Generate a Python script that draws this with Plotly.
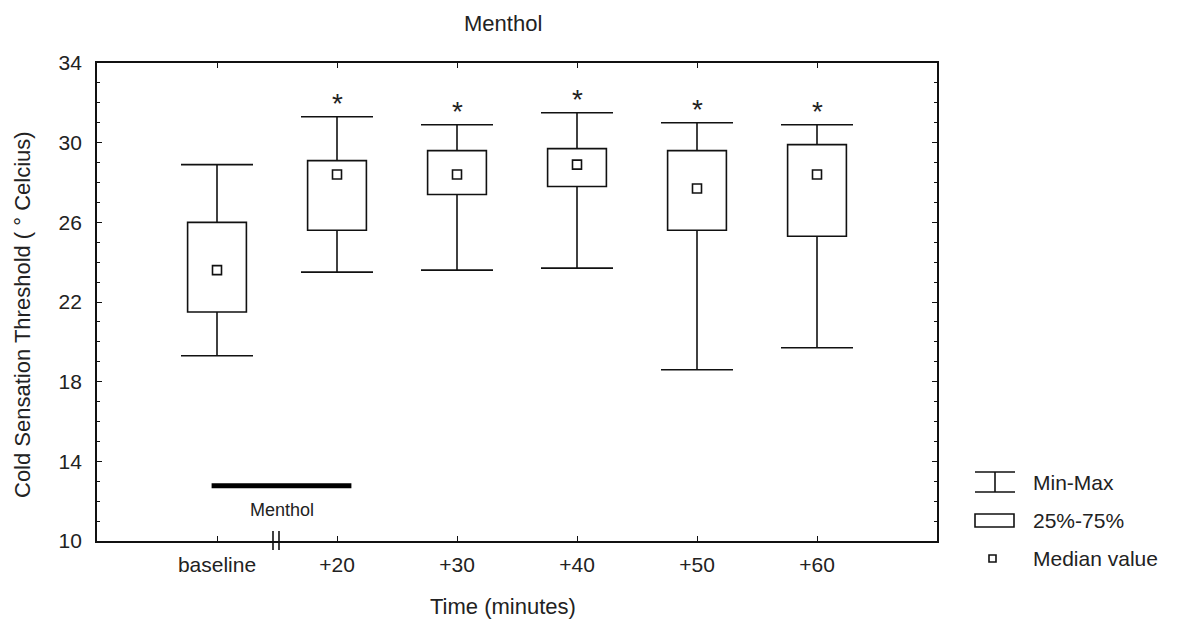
import plotly.graph_objects as go

# ---- data ----
categories = ["baseline", "+20", "+30", "+40", "+50", "+60"]
min_vals = [19.3, 23.5, 23.6, 23.7, 18.6, 19.7]
q1_vals = [21.5, 25.6, 27.4, 27.8, 25.6, 25.3]
median_vals = [23.6, 28.4, 28.4, 28.9, 27.7, 28.4]
q3_vals = [26.0, 29.1, 29.6, 29.7, 29.6, 29.9]
max_vals = [28.9, 31.3, 30.9, 31.5, 31.0, 30.9]
significant = [False, True, True, True, True, True]
menthol_period = [0.955, 2.12]   # x extent of menthol application bar
menthol_level = 12.78
y_ticks = [10, 14, 18, 22, 26, 30, 34]

FONT = "Liberation Sans, Arial, sans-serif"
TXT = "#222222"
LC = "#111111"

xpos = list(range(1, len(categories) + 1))
BOX_W = 0.49
CAP_HALF = 0.3

fig = go.Figure()

# IQR boxes
fig.add_trace(go.Bar(
    x=xpos, y=[b - a for a, b in zip(q1_vals, q3_vals)], base=q1_vals,
    width=BOX_W, marker=dict(color="white", line=dict(color=LC, width=1.6)),
    showlegend=False, hoverinfo="skip"))

# whiskers + caps
wx, wy = [], []
for x, lo, a, b, hi in zip(xpos, min_vals, q1_vals, q3_vals, max_vals):
    wx += [x, x, None, x, x, None, x - CAP_HALF, x + CAP_HALF, None, x - CAP_HALF, x + CAP_HALF, None]
    wy += [b, hi, None, a, lo, None, hi, hi, None, lo, lo, None]
fig.add_trace(go.Scatter(x=wx, y=wy, mode="lines", line=dict(color=LC, width=1.6),
                         showlegend=False, hoverinfo="skip"))

# medians
fig.add_trace(go.Scatter(x=xpos, y=median_vals, mode="markers",
                         marker=dict(symbol="square-open", size=9, color=LC, line=dict(width=1.6)),
                         showlegend=False, hoverinfo="skip"))

# menthol application bar
fig.add_trace(go.Scatter(x=menthol_period, y=[menthol_level, menthol_level], mode="lines",
                         line=dict(color="black", width=5), showlegend=False, hoverinfo="skip"))

annotations = []
for x, hi, s in zip(xpos, max_vals, significant):
    if s:
        annotations.append(dict(x=x, y=hi, xref="x", yref="y", text="*", showarrow=False,
                                yanchor="bottom", yshift=-4,
                                font=dict(family=FONT, size=28, color=TXT)))

annotations.append(dict(x=sum(menthol_period) / 2 - 0.0, y=menthol_level, xref="x", yref="y",
                        text="Menthol", showarrow=False, yanchor="top", yshift=-12,
                        font=dict(family=FONT, size=18, color=TXT)))

# screen-pixel geometry of the plot area (page has an 8px body margin)
OFF = 8
L, R, T, B = 97, 937, 63, 541
def px(xp):
    return (xp - L) / (R - L)
def py(yp):
    return (B - yp) / (B - T)

# titles
annotations.append(dict(x=px(503), y=py(23), xref="paper", yref="paper", text="Menthol",
                        showarrow=False, xanchor="center", yanchor="middle",
                        font=dict(family=FONT, size=22, color=TXT)))
annotations.append(dict(x=px(503), y=py(606), xref="paper", yref="paper", text="Time (minutes)",
                        showarrow=False, xanchor="center", yanchor="middle",
                        font=dict(family=FONT, size=22, color=TXT)))
annotations.append(dict(x=px(22), y=py(315), xref="paper", yref="paper",
                        text="Cold Sensation Threshold ( ° Celcius)", textangle=-90,
                        showarrow=False, xanchor="center", yanchor="middle",
                        font=dict(family=FONT, size=22, color=TXT)))

# legend text
for label, yy in [("Min-Max", 482), ("25%-75%", 520), ("Median value", 558)]:
    annotations.append(dict(x=px(1031), y=py(yy), xref="paper", yref="paper", text=label,
                            showarrow=False, xanchor="left", yanchor="middle",
                            font=dict(family=FONT, size=21, color=TXT)))

shapes = []
ln = dict(color=LC, width=1.6)
# legend icons
shapes += [
    dict(type="line", xref="paper", yref="paper", x0=px(975), x1=px(1015), y0=py(472), y1=py(472), line=ln),
    dict(type="line", xref="paper", yref="paper", x0=px(975), x1=px(1015), y0=py(492), y1=py(492), line=ln),
    dict(type="line", xref="paper", yref="paper", x0=px(995), x1=px(995), y0=py(472), y1=py(492), line=ln),
    dict(type="rect", xref="paper", yref="paper", x0=px(975), x1=px(1014), y0=py(527), y1=py(514), line=ln,
         fillcolor="white"),
    dict(type="rect", xref="paper", yref="paper", x0=px(989), x1=px(996), y0=py(562), y1=py(555), line=ln),
]
# axis break marks
for bx in (273, 279):
    shapes.append(dict(type="line", xref="paper", yref="paper", x0=px(bx), x1=px(bx),
                       y0=py(550), y1=py(531), line=dict(color=LC, width=1.6)))

fig.update_layout(
    width=1182, height=623,
    margin=dict(l=L - OFF, r=1182 - R + OFF, t=T - OFF, b=623 - B + OFF),
    paper_bgcolor="white", plot_bgcolor="white",
    font=dict(family=FONT, size=21, color=TXT),
    showlegend=False,
    annotations=annotations, shapes=shapes,
    xaxis=dict(range=[0, 7], tickvals=xpos, ticktext=categories, ticks="inside", ticklen=5,
               tickwidth=1.3, tickcolor=LC, showline=True, linecolor=LC, linewidth=1.8, mirror="ticks",
               showgrid=False, zeroline=False, ticklabelstandoff=4,
               tickfont=dict(family=FONT, size=21, color=TXT)),
    yaxis=dict(range=[10, 34], tickvals=y_ticks, ticks="inside", ticklen=5, tickwidth=1.3,
               tickcolor=LC, showline=True, linecolor=LC, linewidth=1.8, mirror="ticks",
               showgrid=False, zeroline=False, ticklabelstandoff=9,
               tickfont=dict(family=FONT, size=21, color=TXT),
               minor=dict(dtick=1, ticks="inside", ticklen=3, tickcolor=LC, tickwidth=1.2, showgrid=False)),
)

fig.write_html("out.html")
